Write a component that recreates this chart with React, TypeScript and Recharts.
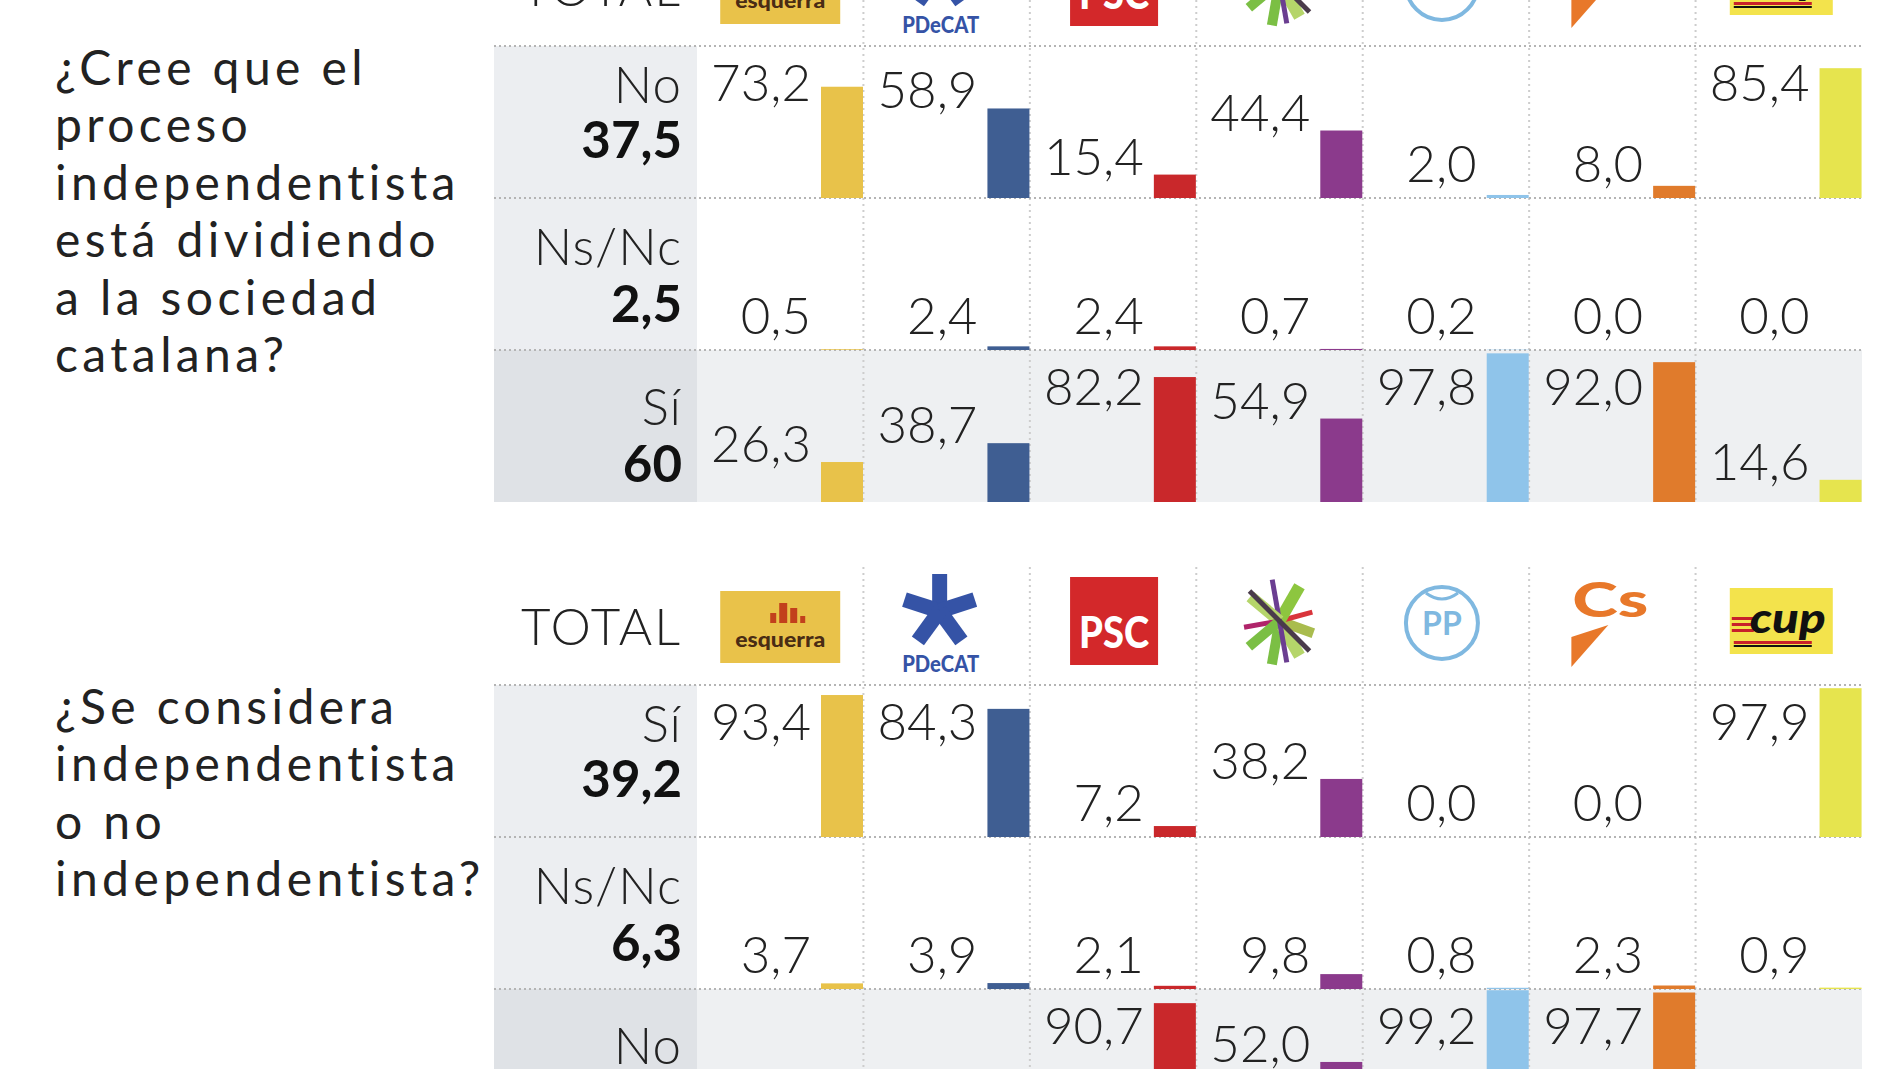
import React from 'react';
import { BarChart, Bar, XAxis, YAxis, LabelList, Cell } from 'recharts';

// ---------- data ----------
const parties = ['ERC', 'PDeCAT', 'PSC', 'CatComu', 'PP', 'Cs', 'CUP'];
const partyColors = ['#e8c24a', '#3f5e92', '#c9282b', '#8b3a8c', '#8fc4ea', '#e07b2c', '#e6e44e'];

const q1Question = ['¿Cree que el', 'proceso', 'independentista', 'está dividiendo', 'a la sociedad', 'catalana?'];
const q1RowLabels = ['No', 'Ns/Nc', 'Sí'];
const q1Totals = [37.5, 2.5, 60];
const q1No = [73.2, 58.9, 15.4, 44.4, 2.0, 8.0, 85.4];
const q1NsNc = [0.5, 2.4, 2.4, 0.7, 0.2, 0.0, 0.0];
const q1Si = [26.3, 38.7, 82.2, 54.9, 97.8, 92.0, 14.6];

const q2Question = ['¿Se considera', 'independentista', 'o no', 'independentista?'];
const q2RowLabels = ['Sí', 'Ns/Nc', 'No'];
const q2Totals = [39.2, 6.3, 54.5];
const q2Si = [93.4, 84.3, 7.2, 38.2, 0.0, 0.0, 97.9];
const q2NsNc = [3.7, 3.9, 2.1, 9.8, 0.8, 2.3, 0.9];
const q2No = [2.9, 11.8, 90.7, 52.0, 99.2, 97.7, 1.2];

// ---------- layout ----------
const W = 1900;
const H = 1069;
const TOTAL_L = 494;
const PARTY_L = 697;
const PARTY_R = 1862;
const ROW_H = 152;
const HEADER_H = 125;
const BAR_W = 42;
const SECTION_TOPS = [46, 685];
const LABEL_OFF = [57, 67, 75];
const TOTAL_OFF = [112, 124, 132];
const FONT = 'Lato, "Open Sans", sans-serif';

const fmt = (v: number) => (Number.isInteger(v) && v !== 0 && v > 10 && v % 1 === 0 && String(v).length === 2 ? String(v) : v.toFixed(1).replace('.', ','));
const fmtTotal = (v: number) => (Number.isInteger(v) ? String(v) : v.toFixed(1).replace('.', ','));

// ---------- logos ----------
function Logo({ name }: { name: string }) {
  if (name === 'ERC') {
    return (
      <g>
        <rect x={-60} y={-94} width={120} height={72} fill="#e9c24a" />
        <rect x={-10} y={-72} width={6} height={10} fill="#c2401c" />
        <rect x={-1} y={-82} width={8} height={20} fill="#c2401c" />
        <rect x={10} y={-77} width={7} height={15} fill="#c2401c" />
        <rect x={20} y={-69} width={5} height={7} fill="#c2401c" />
        <text x={0} y={-38} textAnchor="middle" fontFamily={FONT} fontWeight={900} fontSize={21} fill="#4a2c14" textLength={90} lengthAdjust="spacingAndGlyphs">esquerra</text>
      </g>
    );
  }
  if (name === 'PDeCAT') {
    const c = { x: -7, y: -74 };
    const angles = [-90, -162, -18, 54, 126];
    return (
      <g>
        {angles.map((a) => {
          const r = (a * Math.PI) / 180;
          return <line key={a} x1={c.x} y1={c.y} x2={c.x + 37 * Math.cos(r)} y2={c.y + 37 * Math.sin(r)} stroke="#3553a6" strokeWidth={15} />;
        })}
        <text x={-6} y={-13} textAnchor="middle" fontFamily={FONT} fontWeight={900} fontSize={22} fill="#3553a6" textLength={77} lengthAdjust="spacingAndGlyphs">PDeCAT</text>
      </g>
    );
  }
  if (name === 'PSC') {
    return (
      <g>
        <rect x={-43} y={-108} width={88} height={88} fill="#d3282a" />
        <text x={1} y={-37} textAnchor="middle" fontFamily={FONT} fontWeight={900} fontSize={44} fill="#ffffff" textLength={70} lengthAdjust="spacingAndGlyphs">PSC</text>
      </g>
    );
  }
  if (name === 'CatComu') {
    const cy = -64;
    const strokes = [
      { a: 100, l: 44, c: '#7bbf44', w: 10 },
      { a: 60, l: 40, c: '#b5d56a', w: 12 },
      { a: 20, l: 36, c: '#a9bc4e', w: 10 },
      { a: -15, l: 34, c: '#d9343b', w: 5 },
      { a: -60, l: 40, c: '#8dc63f', w: 12 },
      { a: -100, l: 42, c: '#6b3e91', w: 5 },
      { a: -140, l: 38, c: '#b5d56a', w: 12 },
      { a: 170, l: 36, c: '#b0246a', w: 5 },
      { a: 140, l: 40, c: '#7bbf44', w: 10 },
      { a: 80, l: 42, c: '#6b3e91', w: 5 },
    ];
    return (
      <g>
        {strokes.map((s, i) => {
          const r = (s.a * Math.PI) / 180;
          return <line key={i} x1={0} y1={cy} x2={s.l * Math.cos(r)} y2={cy + s.l * Math.sin(r)} stroke={s.c} strokeWidth={s.w} />;
        })}
        <line x1={-30} y1={cy - 30} x2={30} y2={cy + 30} stroke="#4a3b4b" strokeWidth={5} />
      </g>
    );
  }
  if (name === 'PP') {
    return (
      <g>
        <ellipse cx={-4} cy={-62} rx={36} ry={36} fill="#ffffff" stroke="#7fb8e0" strokeWidth={4} />
        <path d="M -20 -92 Q -4 -80 12 -92" fill="none" stroke="#7fb8e0" strokeWidth={3} />
        <text x={-4} y={-50} textAnchor="middle" fontFamily={FONT} fontWeight={700} fontSize={32} fill="#7fb8e0">PP</text>
      </g>
    );
  }
  if (name === 'Cs') {
    return (
      <g>
        <text x={-40} y={-68} fontFamily={FONT} fontWeight={900} fontSize={48} fill="#e8782a" textLength={76} lengthAdjust="spacingAndGlyphs">Cs</text>
        <polygon points="-41,-48 -4,-60 -41,-18" fill="#e8782a" />
      </g>
    );
  }
  // CUP
  return (
    <g>
      <rect x={-49} y={-97} width={103} height={66} fill="#f3e34c" />
      <rect x={-47} y={-68} width={22} height={3} fill="#c8202a" />
      <rect x={-47} y={-62} width={22} height={3} fill="#c8202a" />
      <rect x={-47} y={-56} width={22} height={3} fill="#c8202a" />
      <text x={-29} y={-52} fontFamily={FONT} fontWeight={900} fontStyle="italic" fontSize={42} fill="#111" textLength={76} lengthAdjust="spacingAndGlyphs">cup</text>
      <rect x={-45} y={-44} width={78} height={3} fill="#c8202a" />
      <rect x={-45} y={-40} width={78} height={2} fill="#111" />
    </g>
  );
}

function LogoTick(props: any) {
  const { x, payload, baseY } = props;
  return (
    <g transform={`translate(${x},${baseY})`}>
      <Logo name={payload.value} />
    </g>
  );
}

function BarShape(props: any) {
  const { x, y, width, height, fill } = props;
  if (x == null || width == null) return null;
  return <rect x={x + width - BAR_W} y={y} width={BAR_W} height={Math.max(0, height || 0)} fill={fill} />;
}

function makeLabel(rowTop: number) {
  return (props: any) => {
    const vb = props.viewBox || {};
    const x = props.x != null ? props.x : vb.x;
    const y = props.y != null ? props.y : vb.y;
    const width = props.width != null ? props.width : vb.width;
    const value = props.value;
    if (x == null || value == null) return null;
    const t = y - rowTop;
    const b = Math.min(Math.max(t, 55), 136) + rowTop;
    return (
      <text x={x + width - BAR_W - 10} y={b} textAnchor="end" fontFamily={FONT} fontWeight={300} fontSize={51} fill="#222">
        {Number(value).toFixed(1).replace('.', ',')}
      </text>
    );
  };
}

function RowChart({ values, top, showLogos }: { values: number[]; top: number; showLogos: boolean }) {
  const data = parties.map((p, i) => ({ party: p, value: values[i] }));
  const headH = showLogos ? HEADER_H : 0;
  return (
    <div style={{ position: 'absolute', left: PARTY_L, top: top - headH }}>
      <BarChart
        width={PARTY_R - PARTY_L}
        height={ROW_H + headH}
        data={data}
        margin={{ top: 0, right: 0, bottom: 0, left: 0 }}
        barCategoryGap={0}
        barGap={0}
      >
        <XAxis
          dataKey="party"
          orientation="top"
          hide={!showLogos}
          height={headH}
          axisLine={false}
          tickLine={false}
          interval={0}
          tick={(p: any) => <LogoTick {...p} baseY={headH} />}
        />
        <YAxis hide domain={[0, 100]} />
        <Bar dataKey="value" isAnimationActive={false} shape={(p: any) => <BarShape {...p} />}>
          {data.map((d, i) => (
            <Cell key={d.party} fill={partyColors[i]} />
          ))}
          <LabelList dataKey="value" content={makeLabel(headH)} />
        </Bar>
      </BarChart>
    </div>
  );
}

function SectionBackground({ top, labels, totals, question }: { top: number; labels: string[]; totals: number[]; question: string[] }) {
  const R = top;
  const colW = (PARTY_R - PARTY_L) / parties.length;
  return (
    <g>
      <rect x={TOTAL_L} y={R} width={PARTY_L - TOTAL_L} height={ROW_H * 2} fill="#eceef1" />
      <rect x={TOTAL_L} y={R + ROW_H * 2} width={PARTY_L - TOTAL_L} height={ROW_H} fill="#dfe2e6" />
      <rect x={PARTY_L} y={R + ROW_H * 2} width={PARTY_R - PARTY_L} height={ROW_H} fill="#eef0f2" />
      {[1, 2, 3, 4, 5, 6].map((i) => (
        <line key={'v' + i} x1={PARTY_L + i * colW} x2={PARTY_L + i * colW} y1={R - 118} y2={R + ROW_H * 3} stroke="#cdcdcd" strokeWidth={2} strokeDasharray="2 4" />
      ))}
      {[0, 1, 2].map((k) => (
        <line key={'h' + k} x1={TOTAL_L} x2={PARTY_R} y1={R + k * ROW_H} y2={R + k * ROW_H} stroke="#b4b4b4" strokeWidth={2} strokeDasharray="2 3" />
      ))}
      <text x={682} y={R - 40} textAnchor="end" fontFamily={FONT} fontWeight={300} fontSize={51} letterSpacing={2} fill="#222">TOTAL</text>
      {labels.map((l, k) => (
        <g key={l}>
          <text x={682} y={R + k * ROW_H + LABEL_OFF[k]} textAnchor="end" fontFamily={FONT} fontWeight={300} fontSize={51} letterSpacing={1} fill="#222">{l}</text>
          <text x={682} y={R + k * ROW_H + TOTAL_OFF[k]} textAnchor="end" fontFamily={FONT} fontWeight={700} fontSize={51} fill="#111">{fmtTotal(totals[k])}</text>
        </g>
      ))}
      {question.map((q, i) => (
        <text key={i} x={55} y={R + 39 + i * 57.4} fontFamily={FONT} fontWeight={400} fontSize={48} letterSpacing={4.4} fill="#222">{q}</text>
      ))}
    </g>
  );
}

export default function App() {
  return (
    <div style={{ position: 'absolute', left: 0, top: 0, width: W, height: H, overflow: 'hidden', background: '#fff' }}>
      <svg width={W} height={H} style={{ position: 'absolute', left: 0, top: 0 }}>
        <SectionBackground top={SECTION_TOPS[0]} labels={q1RowLabels} totals={q1Totals} question={q1Question} />
        <SectionBackground top={SECTION_TOPS[1]} labels={q2RowLabels} totals={q2Totals} question={q2Question} />
      </svg>
      <RowChart values={q1No} top={SECTION_TOPS[0]} showLogos />
      <RowChart values={q1NsNc} top={SECTION_TOPS[0] + ROW_H} showLogos={false} />
      <RowChart values={q1Si} top={SECTION_TOPS[0] + ROW_H * 2} showLogos={false} />
      <RowChart values={q2Si} top={SECTION_TOPS[1]} showLogos />
      <RowChart values={q2NsNc} top={SECTION_TOPS[1] + ROW_H} showLogos={false} />
      <RowChart values={q2No} top={SECTION_TOPS[1] + ROW_H * 2} showLogos={false} />
    </div>
  );
}
